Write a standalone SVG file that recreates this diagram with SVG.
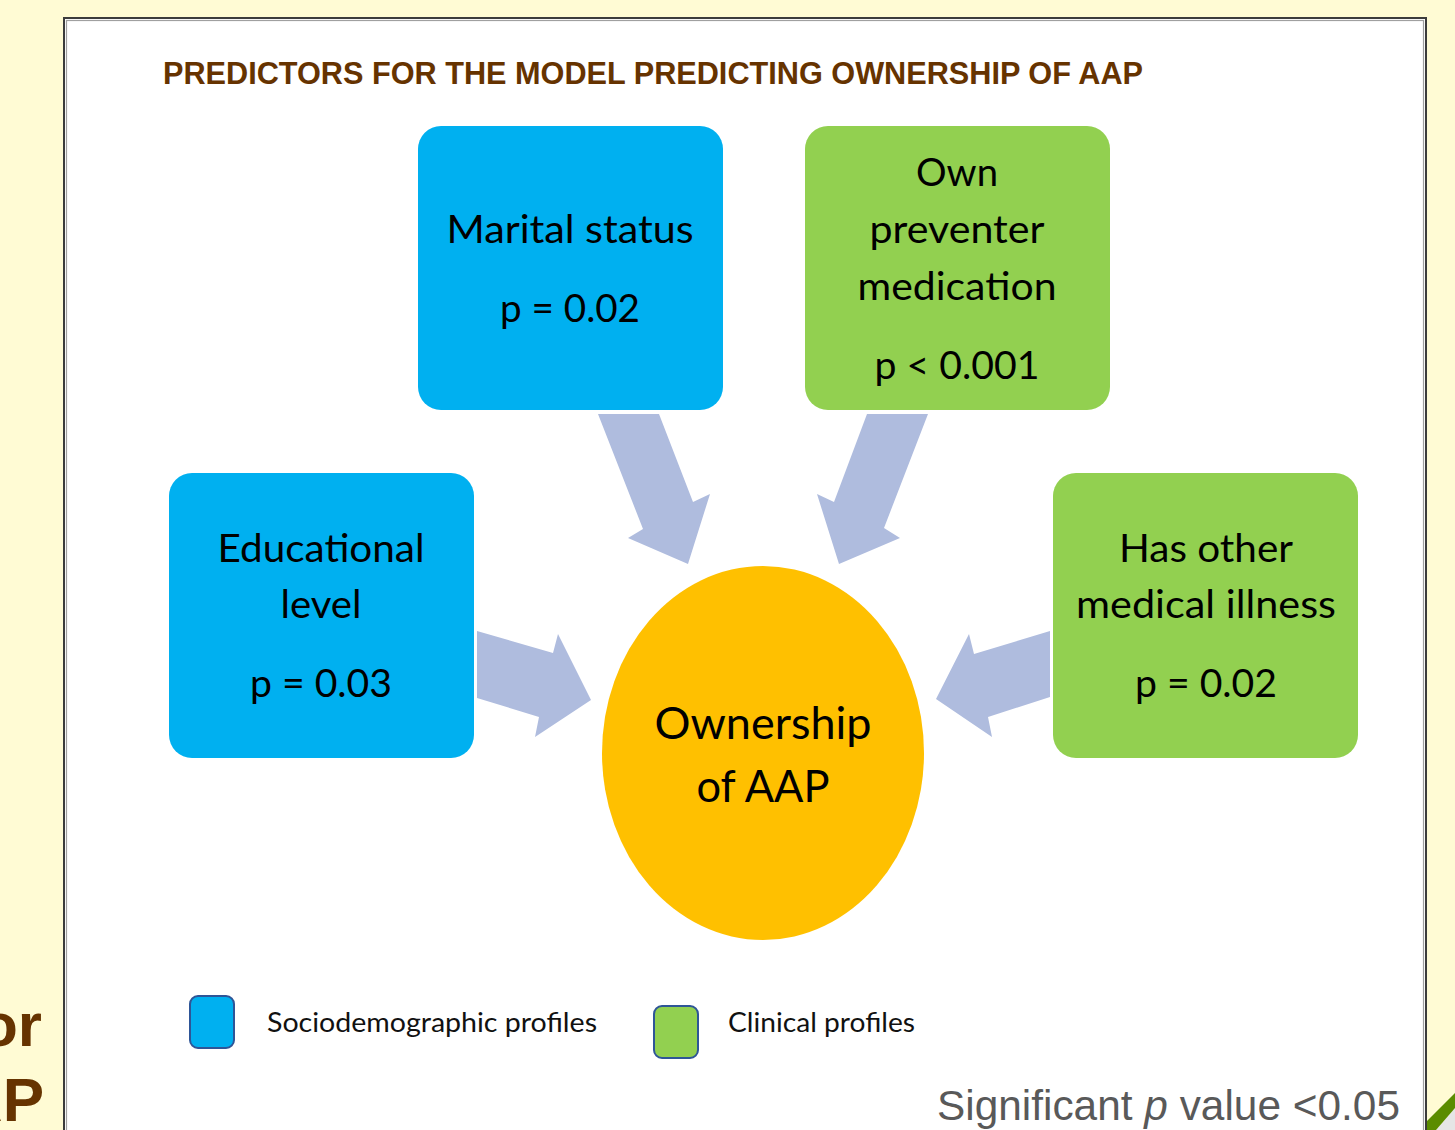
<svg xmlns="http://www.w3.org/2000/svg" width="1455" height="1130" viewBox="0 0 1455 1130">
  <style>
    .box-socio { fill: #00B0F0; }
    .box-clin { fill: #92D050; }
    .lbl { font-family: Lato, "Open Sans", "Liberation Sans", sans-serif; font-size: 38px; fill: #000; text-anchor: middle; }
    .big { font-size: 44px; }
    .legend { font-family: Lato, "Open Sans", "Liberation Sans", sans-serif; font-size: 27px; fill: #111; }
    .arrow { fill: #AFBCDE; }
    .side { font-family: "Liberation Sans", Arial, sans-serif; font-weight: bold; font-size: 62px; fill: #663300; text-anchor: end; }
  </style>

  <!-- page background -->
  <rect x="0" y="0" width="1455" height="1130" fill="#FFFBD4"/>

  <!-- side heading fragments -->
  <text class="side" x="42" y="1046">or</text>
  <text class="side" x="44" y="1121">AP</text>

  <!-- corner ornament -->
  <polygon points="1436,1130 1455,1108 1455,1130" fill="#E6E6E6"/>
  <polygon points="1427,1130 1427,1121 1455,1093 1455,1108 1436,1130" fill="#5B8C00"/>

  <!-- framed panel -->
  <rect x="64" y="18" width="1362" height="1120" fill="#FFFFFF" stroke="#3C3C3C" stroke-width="2"/>
  <rect x="66.5" y="20.5" width="1357" height="1115" fill="none" stroke="#A0A0A0" stroke-width="1.2"/>

  <!-- title -->
  <text x="163" y="84" font-family="'Liberation Sans', Arial, sans-serif" font-weight="bold" font-size="32" fill="#663300" textLength="980" lengthAdjust="spacingAndGlyphs">PREDICTORS FOR THE MODEL PREDICTING OWNERSHIP OF AAP</text>

  <!-- connectors -->
  <g id="connectors">
    <polygon class="arrow" points="598,414 659,414 693,502 710,494 688,564 628,538 643,529"/>
    <polygon class="arrow" points="928,414 867,414 834,502 817,494 839,564 900,538 884,528"/>
    <polygon class="arrow" points="477,631 553,653 558,634 591,700 535,737 539,717 477,698"/>
    <polygon class="arrow" points="1050,631 974,654 969,634 936,699 992,737 988,717 1050,697"/>
  </g>

  <!-- nodes -->
  <g id="node-marital">
    <rect class="box-socio" x="418" y="126" width="305" height="284" rx="23"/>
    <text class="lbl" x="570" y="243" textLength="247" lengthAdjust="spacingAndGlyphs">Marital status</text>
    <text class="lbl" x="570" y="322" textLength="140" lengthAdjust="spacingAndGlyphs">p = 0.02</text>
  </g>

  <g id="node-preventer">
    <rect class="box-clin" x="805" y="126" width="305" height="284" rx="23"/>
    <text class="lbl" x="957" y="186" textLength="82" lengthAdjust="spacingAndGlyphs">Own</text>
    <text class="lbl" x="957" y="243" textLength="175" lengthAdjust="spacingAndGlyphs">preventer</text>
    <text class="lbl" x="957" y="300" textLength="199" lengthAdjust="spacingAndGlyphs">medication</text>
    <text class="lbl" x="957" y="379" textLength="165" lengthAdjust="spacingAndGlyphs">p &lt; 0.001</text>
  </g>

  <g id="node-education">
    <rect class="box-socio" x="169" y="473" width="305" height="285" rx="23"/>
    <text class="lbl" x="321" y="562" textLength="207" lengthAdjust="spacingAndGlyphs">Educational</text>
    <text class="lbl" x="321" y="618" textLength="81" lengthAdjust="spacingAndGlyphs">level</text>
    <text class="lbl" x="321" y="697" textLength="142" lengthAdjust="spacingAndGlyphs">p = 0.03</text>
  </g>

  <g id="node-illness">
    <rect class="box-clin" x="1053" y="473" width="305" height="285" rx="23"/>
    <text class="lbl" x="1206" y="562" textLength="174" lengthAdjust="spacingAndGlyphs">Has other</text>
    <text class="lbl" x="1206" y="618" textLength="260" lengthAdjust="spacingAndGlyphs">medical illness</text>
    <text class="lbl" x="1206" y="697" textLength="142" lengthAdjust="spacingAndGlyphs">p = 0.02</text>
  </g>

  <g id="node-ownership">
    <ellipse cx="763" cy="753" rx="161" ry="187" fill="#FFC000"/>
    <text class="lbl big" x="763" y="739" textLength="217" lengthAdjust="spacingAndGlyphs">Ownership</text>
    <text class="lbl big" x="763" y="802" textLength="133" lengthAdjust="spacingAndGlyphs">of AAP</text>
  </g>

  <!-- legend -->
  <g id="legend">
    <rect x="190" y="996" width="44" height="52" rx="8" fill="#00B0F0" stroke="#2E5597" stroke-width="2"/>
    <text class="legend" x="267" y="1032" textLength="330" lengthAdjust="spacingAndGlyphs">Sociodemographic profiles</text>
    <rect x="654" y="1006" width="44" height="52" rx="8" fill="#92D050" stroke="#2E5597" stroke-width="2"/>
    <text class="legend" x="728" y="1032" textLength="187" lengthAdjust="spacingAndGlyphs">Clinical profiles</text>
  </g>

  <!-- footnote -->
  <text x="937" y="1120" font-family="'Liberation Sans', Arial, sans-serif" font-size="42" fill="#595959" textLength="463" lengthAdjust="spacingAndGlyphs">Significant <tspan font-style="italic">p</tspan> value &lt;0.05</text>
</svg>
